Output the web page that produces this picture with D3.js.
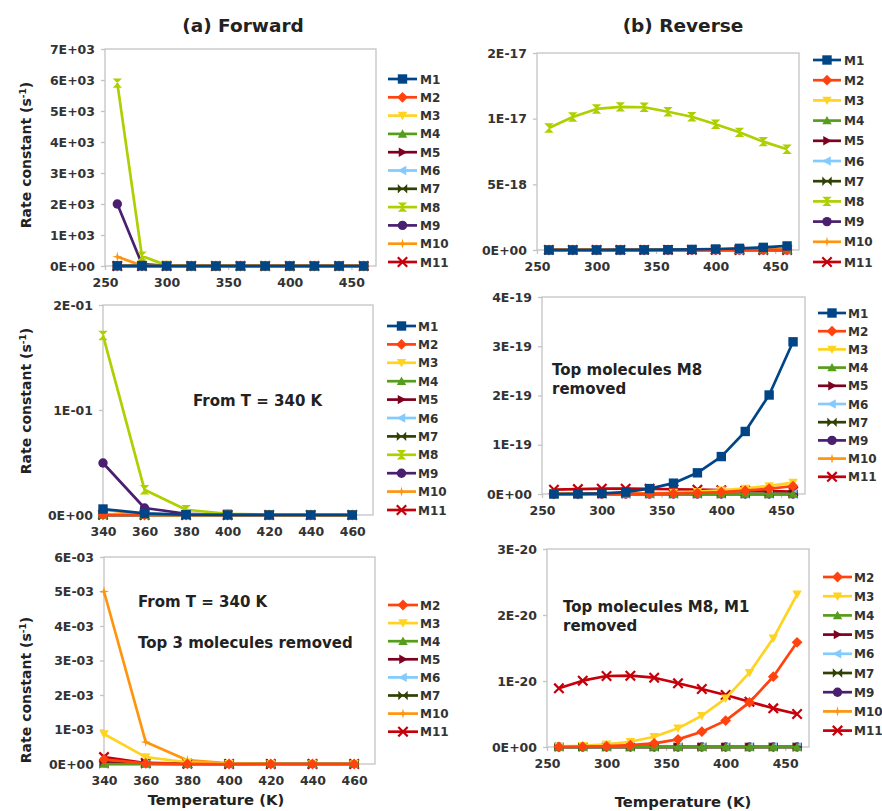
<!DOCTYPE html>
<html>
<head>
<meta charset="utf-8">
<script src="https://cdn.jsdelivr.net/npm/d3@7"></script>
<style>
  body { margin: 0; background: #fff; }
  text { font-family: "DejaVu Sans", "Liberation Sans", Arial, sans-serif; font-weight: bold; }
</style>
</head>
<body>
<svg id="chart" width="882" height="811"></svg>
<script>
// ---- data ----------------------------------------------------------------
const temps = [260, 280, 300, 320, 340, 360, 380, 400, 420, 440, 460];
const names = ["M1", "M2", "M3", "M4", "M5", "M6", "M7", "M8", "M9", "M10", "M11"];

// forward rate constants (s^-1)
const fwdM1  = [6, 0.9, 0.15, 0.03, 0.0057, 0.0015, 0.0003, 0.00006, 0.00001, 0, 0];
const fwdM2  = [0.5, 0.04, 0.004, 0.0006, 0.00013, 0.00002, 0.000004, 0, 0, 0, 0];
const fwdM3  = [2, 0.2, 0.03, 0.004, 0.00087, 0.0002, 0.00005, 0.00001, 0, 0, 0];
const fwdM4  = [0, 0, 0, 0, 0, 0, 0, 0, 0, 0, 0];
const fwdM5  = [0.2, 0.02, 0.002, 0.0003, 0.00005, 0.00001, 0, 0, 0, 0, 0];
const fwdM6  = [0, 0, 0, 0, 0, 0, 0, 0, 0, 0, 0];
const fwdM7  = [0, 0, 0, 0, 0, 0, 0, 0, 0, 0, 0];
const fwdM8  = [5900, 320, 20, 1.5, 0.171, 0.024, 0.005, 0.0012, 0.0003, 0.0001, 0.00003];
const fwdM9  = [2000, 60, 3, 0.3, 0.0495, 0.0067, 0.0012, 0.0002, 0.00004, 0, 0];
const fwdM10 = [300, 12, 0.8, 0.07, 0.005, 0.00064, 0.00011, 0.00002, 0, 0, 0];
const fwdM11 = [0.6, 0.05, 0.005, 0.0008, 0.0002, 0.00003, 0.00001, 0, 0, 0, 0];

// reverse rate constants
const revM1  = [5e-23, 3e-22, 1.1e-21, 3.8e-21, 1.1e-20, 2.2e-20, 4.3e-20, 7.6e-20, 1.27e-19, 2.01e-19, 3.09e-19];
const revM2  = [2e-23, 5e-23, 1.2e-22, 2.7e-22, 5.6e-22, 1.16e-21, 2.32e-21, 4.0e-21, 6.77e-21, 1.065e-20, 1.586e-20];
const revM3  = [8e-23, 1.8e-22, 4e-22, 8e-22, 1.56e-21, 2.83e-21, 4.74e-21, 7.37e-21, 1.126e-20, 1.647e-20, 2.313e-20];
const revM4  = [0, 0, 0, 0, 0, 0, 0, 0, 0, 0, 0];
const revM5  = [0, 0, 0, 0, 0, 0, 0, 0, 0, 0, 0];
const revM6  = [0, 0, 0, 0, 0, 0, 0, 0, 0, 0, 0];
const revM7  = [0, 0, 0, 0, 0, 0, 0, 0, 0, 0, 0];
const revM8  = [9.29e-18, 1.013e-17, 1.074e-17, 1.09e-17, 1.087e-17, 1.053e-17, 1.015e-17, 9.57e-18, 8.96e-18, 8.25e-18, 7.67e-18];
const revM9  = [0, 0, 0, 0, 0, 0, 0, 0, 0, 0, 0];
const revM10 = [0, 0, 0, 1e-24, 2e-24, 4e-24, 7e-24, 1.2e-23, 2e-23, 3e-23, 5e-23];
const revM11 = [8.89e-21, 1.005e-20, 1.076e-20, 1.08e-20, 1.05e-20, 9.65e-21, 8.79e-21, 7.88e-21, 6.86e-21, 5.86e-21, 5.0e-21];

// axis ticks and their labels
const xTicksWide   = [250, 300, 350, 400, 450];
const xTicksNarrow = [340, 360, 380, 400, 420, 440, 460];
const a1YTicks  = [0, 1000, 2000, 3000, 4000, 5000, 6000, 7000];
const a1YLabels = ["0E+00", "1E+03", "2E+03", "3E+03", "4E+03", "5E+03", "6E+03", "7E+03"];
const a2YTicks  = [0, 0.1, 0.2];
const a2YLabels = ["0E+00", "1E-01", "2E-01"];
const a3YTicks  = [0, 0.001, 0.002, 0.003, 0.004, 0.005, 0.006];
const a3YLabels = ["0E+00", "1E-03", "2E-03", "3E-03", "4E-03", "5E-03", "6E-03"];
const b1YTicks  = [0, 5e-18, 1e-17, 1.5e-17];
const b1YLabels = ["0E+00", "5E-18", "1E-17", "2E-17"];
const b2YTicks  = [0, 1e-19, 2e-19, 3e-19, 4e-19];
const b2YLabels = ["0E+00", "1E-19", "2E-19", "3E-19", "4E-19"];
const b3YTicks  = [0, 1e-20, 2e-20, 3e-20];
const b3YLabels = ["0E+00", "1E-20", "2E-20", "3E-20"];

// series shown in each panel
const allSeries   = names;
const a3Series    = ["M2", "M3", "M4", "M5", "M6", "M7", "M10", "M11"];
const b2Series    = ["M1", "M2", "M3", "M4", "M5", "M6", "M7", "M9", "M10", "M11"];
const b3Series    = ["M2", "M3", "M4", "M5", "M6", "M7", "M9", "M10", "M11"];

// ---- styling ---------------------------------------------------------------
const colorOf = {
  M1: "#004586", M2: "#ff420e", M3: "#ffd320", M4: "#579d1c", M5: "#7e0021",
  M6: "#83caff", M7: "#314004", M8: "#aecf00", M9: "#4b1f6f", M10: "#ff950e", M11: "#c5000b"
};
const shapeOf = {
  M1: "square", M2: "diamond", M3: "down", M4: "up", M5: "right", M6: "left",
  M7: "bowtie", M8: "hourglass", M9: "circle", M10: "star", M11: "x"
};

const forward = { M1: fwdM1, M2: fwdM2, M3: fwdM3, M4: fwdM4, M5: fwdM5, M6: fwdM6,
                  M7: fwdM7, M8: fwdM8, M9: fwdM9, M10: fwdM10, M11: fwdM11 };
const reverse = { M1: revM1, M2: revM2, M3: revM3, M4: revM4, M5: revM5, M6: revM6,
                  M7: revM7, M8: revM8, M9: revM9, M10: revM10, M11: revM11 };

function markerPath(shape, r) {
  switch (shape) {
    case "square":    return `M${-r},${-r}H${r}V${r}H${-r}Z`;
    case "diamond":   { const q = r * 1.15; return `M0,${-q}L${q},0L0,${q}L${-q},0Z`; }
    case "down":      return `M${-r},${-r * 0.8}L${r},${-r * 0.8}L0,${r}Z`;
    case "up":        return `M${-r},${r * 0.8}L${r},${r * 0.8}L0,${-r}Z`;
    case "right":     return `M${-r * 0.8},${-r}L${r},0L${-r * 0.8},${r}Z`;
    case "left":      return `M${r * 0.8},${-r}L${-r},0L${r * 0.8},${r}Z`;
    case "bowtie":    return `M${-r},${-r}L0,0L${-r},${r}ZM${r},${-r}L0,0L${r},${r}Z`;
    case "hourglass": return `M${-r},${-r}L${r},${-r}L0,0ZM${-r},${r}L${r},${r}L0,0Z`;
    case "circle":    return `M${r},0A${r},${r} 0 1,1 ${-r},0A${r},${r} 0 1,1 ${r},0Z`;
    case "star": {
      const s = r * 0.22, q = r * 1.1;
      return `M0,${-q}L${s},${-s}L${q},0L${s},${s}L0,${q}L${-s},${s}L${-q},0L${-s},${-s}Z`;
    }
    case "x":         return `M${-r},${-r}L${r},${r}M${r},${-r}L${-r},${r}`;
  }
}

function drawMarker(g, name, x, y) {
  const shape = shapeOf[name], c = colorOf[name];
  const p = g.append("path")
    .attr("transform", `translate(${x},${y})`)
    .attr("d", markerPath(shape, 4.7));
  if (shape === "x") p.attr("fill", "none").attr("stroke", c).attr("stroke-width", 2.2);
  else p.attr("fill", c);
}

// ---- panel layout ------------------------------------------------------------
const panels = [
  { data: forward, series: allSeries, from: 0, xDomain: [250, 470], xTicks: xTicksWide,
    yMax: 7000, yTicks: a1YTicks, yLabels: a1YLabels,
    box: { l: 105, r: 376, t: 49, b: 266 },
    legend: { x0: 388, x1: 417, tx: 420, y: 79, dy: 18.3 } },
  { data: forward, series: allSeries, from: 4, xDomain: [340, 470], xTicks: xTicksNarrow,
    yMax: 0.2, yTicks: a2YTicks, yLabels: a2YLabels,
    box: { l: 103, r: 373, t: 305, b: 515 },
    legend: { x0: 387, x1: 416, tx: 418, y: 326, dy: 18.4 } },
  { data: forward, series: a3Series, from: 4, xDomain: [340, 470], xTicks: xTicksNarrow,
    yMax: 0.006, yTicks: a3YTicks, yLabels: a3YLabels,
    box: { l: 104, r: 375, t: 557, b: 764 },
    legend: { x0: 388, x1: 418, tx: 420, y: 605, dy: 18.1 } },
  { data: reverse, series: allSeries, from: 0, xDomain: [250, 470], xTicks: xTicksWide,
    yMax: 1.5e-17, yTicks: b1YTicks, yLabels: b1YLabels,
    box: { l: 537, r: 799, t: 53, b: 250 },
    legend: { x0: 813, x1: 841, tx: 844, y: 60, dy: 20.2 } },
  { data: reverse, series: b2Series, from: 0, xDomain: [250, 470], xTicks: xTicksWide,
    yMax: 4e-19, yTicks: b2YTicks, yLabels: b2YLabels,
    box: { l: 542, r: 805, t: 297, b: 494 },
    legend: { x0: 818, x1: 846, tx: 848, y: 313, dy: 18.2 } },
  { data: reverse, series: b3Series, from: 0, xDomain: [250, 470], xTicks: xTicksWide,
    yMax: 3e-20, yTicks: b3YTicks, yLabels: b3YLabels,
    box: { l: 547, r: 809, t: 549, b: 747 },
    legend: { x0: 823, x1: 852, tx: 854, y: 577, dy: 19.2 } }
];

const svg = d3.select("#chart");
svg.append("rect").attr("width", 882).attr("height", 811).attr("fill", "#fff");

panels.forEach(p => {
  const g = svg.append("g");
  const x = d3.scaleLinear().domain(p.xDomain).range([p.box.l, p.box.r]);
  const y = d3.scaleLinear().domain([0, p.yMax]).range([p.box.b, p.box.t]);

  // plot-area frame
  g.append("rect")
    .attr("x", p.box.l).attr("y", p.box.t)
    .attr("width", p.box.r - p.box.l).attr("height", p.box.b - p.box.t)
    .attr("fill", "none").attr("stroke", "#c4c4c4").attr("stroke-width", 1.3);

  const yAxis = g.append("g").attr("transform", `translate(${p.box.l},0)`)
    .call(d3.axisLeft(y).tickValues(p.yTicks).tickFormat((d, i) => p.yLabels[i])
      .tickSize(4).tickSizeOuter(0).tickPadding(6));
  const xAxis = g.append("g").attr("transform", `translate(0,${p.box.b})`)
    .call(d3.axisBottom(x).tickValues(p.xTicks).tickFormat(d3.format("d"))
      .tickSize(4).tickSizeOuter(0).tickPadding(8));
  [yAxis, xAxis].forEach(a => {
    a.attr("font-family", null).attr("font-size", null);
    a.select(".domain").remove();
    a.selectAll(".tick line").attr("stroke", "#c4c4c4").attr("stroke-width", 1.3);
    a.selectAll(".tick text").attr("fill", "#333").style("font-size", "12.5px");
  });

  const xs = temps.slice(p.from);
  const line = d3.line().x((d, i) => x(xs[i])).y(d => y(d));

  // later series drawn first so the first series sits on top
  p.series.slice().reverse().forEach(name => {
    const vals = p.data[name].slice(p.from);
    g.append("path").datum(vals)
      .attr("d", line).attr("fill", "none")
      .attr("stroke", colorOf[name]).attr("stroke-width", 2.7).attr("stroke-linejoin", "round");
    vals.forEach((v, i) => drawMarker(g, name, x(xs[i]), y(v)));
  });

  // legend
  p.series.forEach((name, i) => {
    const ly = p.legend.y + i * p.legend.dy;
    g.append("line").attr("x1", p.legend.x0).attr("x2", p.legend.x1)
      .attr("y1", ly).attr("y2", ly)
      .attr("stroke", colorOf[name]).attr("stroke-width", 2.7);
    drawMarker(g, name, (p.legend.x0 + p.legend.x1) / 2, ly);
    g.append("text").attr("x", p.legend.tx).attr("y", ly + 4.5)
      .attr("fill", "#333").style("font-size", "12px").text(name);
  });
});

// ---- titles and notes -------------------------------------------------------------
const title = (txt, x, y) => svg.append("text").attr("x", x).attr("y", y)
  .attr("text-anchor", "middle").attr("fill", "#222").style("font-size", "18.5px").text(txt);
title("(a) Forward", 243, 32);
title("(b)  Reverse", 683, 32);

function yTitle(cy) {
  const t = svg.append("text").attr("transform", `translate(31,${cy}) rotate(-90)`)
    .attr("text-anchor", "middle").attr("fill", "#222").style("font-size", "14px");
  t.append("tspan").text("Rate constant (s");
  t.append("tspan").attr("dy", -5).style("font-size", "9px").text("-1");
  t.append("tspan").attr("dy", 5).text(")");
}
yTitle(155);
yTitle(401);
yTitle(690);

const xTitle = (cx, yb) => svg.append("text").attr("x", cx).attr("y", yb)
  .attr("text-anchor", "middle").attr("fill", "#222").style("font-size", "14.8px").text("Temperature (K)");
xTitle(216, 805);
xTitle(683, 807);

const note = (txt, x, yb) => svg.append("text").attr("x", x).attr("y", yb)
  .attr("fill", "#222").style("font-size", "15px").text(txt);
note("From T = 340 K", 193, 406);
note("From T = 340 K", 138, 607);
note("Top 3 molecules removed", 138, 648);
note("Top molecules M8", 552, 375);
note("removed", 552, 394);
note("Top molecules M8, M1", 563, 612);
note("removed", 563, 631);
</script>
</body>
</html>
